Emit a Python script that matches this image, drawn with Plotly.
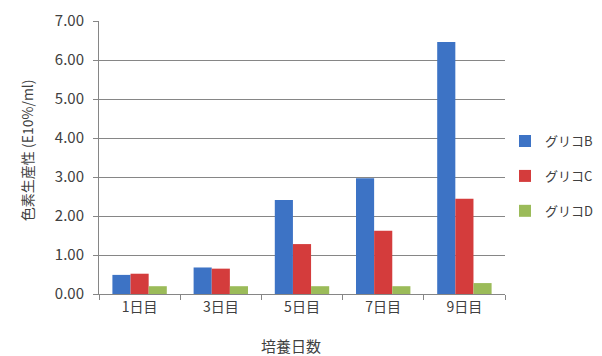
import plotly.graph_objects as go

categories = ["1日目", "3日目", "5日目", "7日目", "9日目"]
series_names = ["グリコB", "グリコC", "グリコD"]
glico_b = [0.49, 0.68, 2.41, 2.97, 6.46]
glico_c = [0.52, 0.65, 1.28, 1.62, 2.44]
glico_d = [0.20, 0.20, 0.20, 0.20, 0.28]
colors = ["#3d73c5", "#d43c3c", "#9bbb59"]

FONT = "Noto Sans CJK JP"

fig = go.Figure()
for i, (name, vals) in enumerate(zip(series_names, [glico_b, glico_c, glico_d])):
    fig.add_trace(go.Bar(x=categories, y=vals, name=name, marker_color=colors[i],
                         marker_line_width=0, legendgroup=name))

fig.update_layout(
    width=594, height=348,
    margin=dict(l=91, r=97, t=13, b=62, autoexpand=False),
    paper_bgcolor="white", plot_bgcolor="white",
    barmode="group", bargap=0.33, bargroupgap=0,
    font=dict(family=FONT, size=14, color="#404040"),
    showlegend=True,
    legend=dict(x=1.0, y=0.432, xanchor="left", yanchor="middle",
                font=dict(family=FONT, size=13, color="#404040"),
                tracegroupgap=15, itemwidth=30, bgcolor="rgba(0,0,0,0)"),
    xaxis=dict(
        automargin=False,
        showline=True, linecolor="#868686", linewidth=1,
        ticks="outside", tickson="boundaries", ticklen=5, tickcolor="#868686",
        tickfont=dict(size=14),
    ),
    yaxis=dict(
        automargin=False,
        range=[0, 7], dtick=1, tickformat=".2f",
        showline=True, linecolor="#868686", linewidth=1,
        showgrid=True, gridcolor="#868686", gridwidth=1,
        ticks="outside", ticklen=5, tickcolor="#868686",
        tickfont=dict(size=15), ticklabelstandoff=6,
        zeroline=False,
    ),
    annotations=[
        dict(text="色素生産性 (E10%/ml)", textangle=-90, showarrow=False,
             xref="paper", yref="paper", x=(19 - 91) / 406, y=0.527,
             xanchor="center", yanchor="middle", font=dict(size=14)),
        dict(text="培養日数", showarrow=False,
             xref="paper", yref="paper", x=0.473, y=-0.187,
             xanchor="center", yanchor="middle", font=dict(size=15)),
    ],
)

fig.write_html("out.html")
